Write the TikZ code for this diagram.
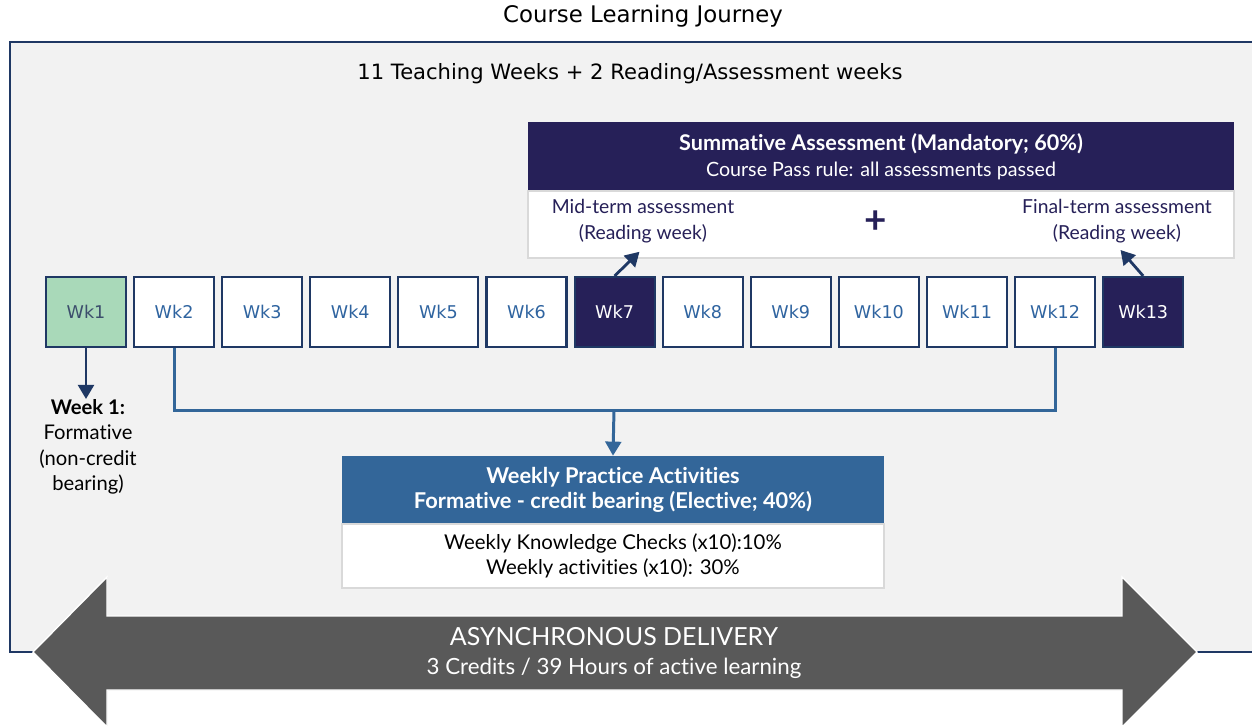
\documentclass[tikz,border=0pt]{standalone}
\usepackage{fontspec}
\setmainfont{DejaVu Sans}
\newfontfamily\gillfont[Ligatures=NoCommon]{Lato}
\usetikzlibrary{arrows.meta,positioning}
\definecolor{navy}{HTML}{1F3864}
\definecolor{sumnavy}{HTML}{262058}
\definecolor{wkblue}{HTML}{2F64A0}
\definecolor{pracblue}{HTML}{336699}
\definecolor{wkgreen}{HTML}{A9D9B9}
\definecolor{panelgrey}{HTML}{F2F2F2}
\definecolor{boxgrey}{HTML}{D9D9D9}
\definecolor{arrowgrey}{HTML}{595959}
\tikzset{
  wkplain/.style={draw=navy,line width=1.2pt,fill=white,text=wkblue,minimum width=1.6cm,minimum height=1.4cm,inner sep=0pt,font=\fontsize{10}{12}\selectfont},
  wkfirst/.style={wkplain,fill=wkgreen,text=navy!70!gray},
  wkdark/.style={wkplain,fill=sumnavy,text=white},
  headbox/.style={inner sep=0pt,align=center,text=white,font=\gillfont\fontsize{11.2}{14.5}\selectfont},
  bodybox/.style={draw=boxgrey,line width=0.8pt,fill=white,inner sep=0pt,align=center,font=\gillfont\fontsize{11.6}{14.5}\selectfont},
  gilltext/.style={inner sep=0pt,align=center,font=\gillfont\fontsize{11}{14.5}\selectfont},
  darrow/.style={line width=1.6pt,draw=navy,-{Triangle[length=8pt,width=9pt]}},
  busline/.style={line width=1.7pt,draw=pracblue},
}
\begin{document}
\begin{tikzpicture}[x=0.02cm,y=-0.02cm]
      \clip (0,0) rectangle (1252,725);

      % panel
      \draw[line width=1.2pt,draw=navy,fill=panelgrey] (10,42) rectangle (1270,652);
      \node (title) at (643,16) {\fontsize{13}{15}\selectfont Course Learning Journey};
      \node (weeks) at (630,74) {\fontsize{12}{14}\selectfont 11 Teaching Weeks + 2 Reading/Assessment weeks};

      % summative assessment
      \node[headbox,fill=sumnavy,minimum width=14.12cm,minimum height=1.38cm] (sumhead) at (881,156.5)
        {{\bfseries\fontsize{12.3}{14.5}\selectfont Summative Assessment (Mandatory; 60\%)}\\Course Pass rule: all assessments passed};
      \node[bodybox,minimum width=14.12cm,minimum height=1.34cm] (sumbody) at (881,224.5) {};
      \node[gilltext,text=sumnavy] (mid) at (643,221) {Mid-term assessment\\(Reading week)};
      \node[gilltext,text=sumnavy] (final) at (1117,221) {Final-term assessment\\(Reading week)};
      \node[text=sumnavy,font=\gillfont\bfseries\fontsize{22}{22}\selectfont] (plus) at (876,222) {+};

      % weeks
      \foreach \i/\kind in {1/wkfirst,2/wkplain,3/wkplain,4/wkplain,5/wkplain,6/wkplain,7/wkdark,
                            8/wkplain,9/wkplain,10/wkplain,11/wkplain,12/wkplain,13/wkdark}
        \node[\kind] (wk\i) at ({86+88.1*(\i-1)},312) {Wk\i};

      \draw[darrow] (wk7.north) -- ([xshift=-2pt,yshift=-5pt]mid.south);
      \draw[darrow] (wk13.north) -- ([xshift=2pt,yshift=-4pt]final.south);

      % week 1
      \node[gilltext,anchor=north,font=\gillfont\fontsize{11.5}{14.5}\selectfont] (wknote) at (88,399)
        {{\bfseries Week 1:}\\Formative\\(non-credit\\bearing)};
      \draw[darrow] (wk1.south) -- (wk1.south |- wknote.north);

      % weekly practice
      \node[headbox,fill=pracblue,font=\gillfont\bfseries\fontsize{12.4}{14.5}\selectfont,
            minimum width=10.84cm,minimum height=1.36cm] (prachead) at (613,490)
        {Weekly Practice Activities\\Formative - credit bearing (Elective; 40\%)};
      \node[bodybox,minimum width=10.84cm,minimum height=1.28cm] (pracbody) at (613,556)
        {Weekly Knowledge Checks (x10):10\%\\Weekly activities (x10): 30\%};

      \coordinate (busmid) at (614,410);
      \draw[busline] (wk2.south) |- (busmid) -| (wk12.south);
      \draw[busline,-{Triangle[length=8pt,width=9pt]}] (busmid) -- (prachead.north);

      % delivery arrow
      \draw[fill=arrowgrey,draw=white,line width=0.8pt]
        (33,652) -- (107,577) -- (107,616) -- (1122,616) -- (1122,577) -- (1197,652)
        -- (1122,727) -- (1122,690) -- (107,690) -- (107,727) -- cycle;
      \node[gilltext,text=white,font=\gillfont\fontsize{12.7}{16}\selectfont] (delivery) at (614,653)
        {{\fontsize{14.2}{16}\selectfont ASYNCHRONOUS DELIVERY}\\3 Credits / 39 Hours of active learning};
\end{tikzpicture}
\end{document}
